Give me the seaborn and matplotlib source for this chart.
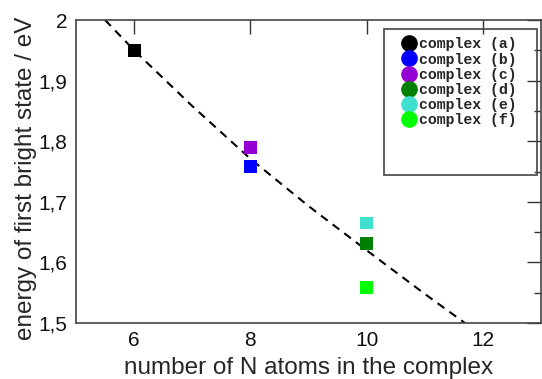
import matplotlib
matplotlib.use("Agg")
import matplotlib.pyplot as plt
import seaborn as sns
import pandas as pd
from matplotlib.lines import Line2D
from matplotlib.patches import Rectangle
from matplotlib.ticker import FuncFormatter, MultipleLocator

labels = ["complex (a)", "complex (b)", "complex (c)", "complex (d)", "complex (e)", "complex (f)"]
n_atoms = [6, 8, 8, 10, 10, 10]
energy = [1.950, 1.758, 1.790, 1.631, 1.665, 1.558]
colors = ["#000000", "#0000ff", "#9400d3", "#008000", "#40e0d0", "#00ff00"]

fit_x = [5.50, 6.0, 7.0, 8.0, 9.0, 10.0, 11.0, 11.69]
fit_y = [2.000, 1.950, 1.858, 1.771, 1.693, 1.620, 1.548, 1.500]

sns.set_style("white")
plt.rcParams['font.family'] = ['Liberation Sans', 'DejaVu Sans']

fig = plt.figure(figsize=(5.42, 3.79), dpi=100)
ax = fig.add_axes([76/542, 56/379, 465/542, 303/379])

df = pd.DataFrame({"N": n_atoms, "E": energy, "label": labels})
ax.plot(fit_x, fit_y, color="black", linestyle=(0, (4, 3)), linewidth=1.5, zorder=1)
sns.scatterplot(data=df, x="N", y="E", hue="label", palette=colors, marker="s",
                s=85, linewidth=0, legend=False, ax=ax, zorder=3)

ax.set_xlim(5, 13)
ax.set_ylim(1.5, 2.0)
ax.xaxis.set_major_locator(MultipleLocator(2))
ax.yaxis.set_major_locator(MultipleLocator(0.1))
ax.yaxis.set_minor_locator(MultipleLocator(0.05))
fmt = FuncFormatter(lambda v, p: ("%g" % round(v, 2)).replace(".", ","))
ax.yaxis.set_major_formatter(fmt)
ax.xaxis.set_major_formatter(FuncFormatter(lambda v, p: "%d" % v))
ax.tick_params(which="major", direction="in", length=10, width=1, top=True, right=True,
               labelsize=15, colors="#333333", labelcolor="#111111", pad=6)
ax.tick_params(which="minor", direction="in", length=5, width=1, top=True, right=True,
               colors="#333333")
for sp in ax.spines.values():
    sp.set_color("#444444")
    sp.set_linewidth(1.2)

ax.set_xlabel("number of N atoms in the complex", fontsize=17.5, labelpad=5)
ax.set_ylabel("energy of first bright state / eV", fontsize=17.5, labelpad=1)
ax.yaxis.label.set_y(0.478)

handles = [Line2D([0], [0], marker="o", linestyle="", color=c, markersize=11) for c in colors]
ax.legend(handles, labels, loc="upper left", bbox_to_anchor=(0.684, 0.962),
          frameon=False, handletextpad=0.05, labelspacing=0.08, handlelength=1.2,
          prop={"family": "Liberation Mono", "weight": "bold", "size": 10.7},
          borderaxespad=0)
ax.add_patch(Rectangle(((384-76)/465, (323-175)/303), (537-384)/465, (175-29)/303,
                       transform=ax.transAxes, fill=False, edgecolor="#444444", linewidth=1.2,
                       zorder=5))

fig.savefig("out.png", dpi=100)
